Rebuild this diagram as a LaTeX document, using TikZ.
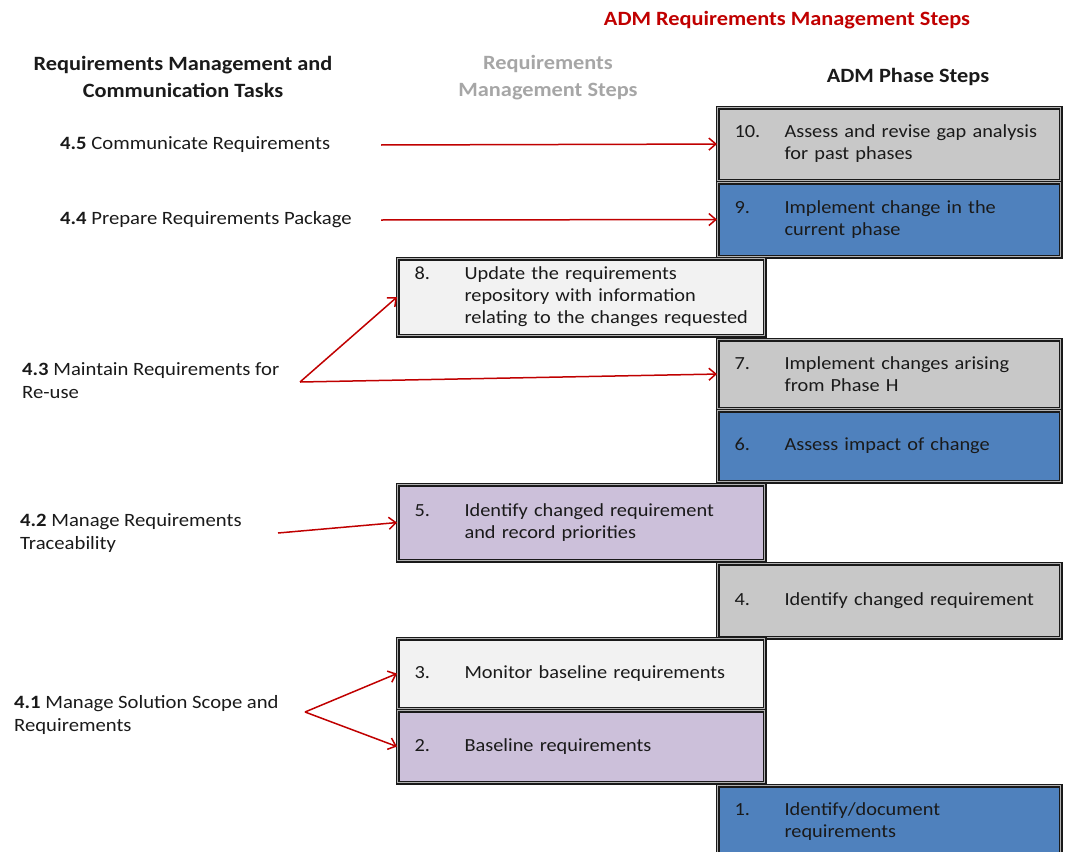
\documentclass[tikz,border=0pt]{standalone}
\usepackage{fontspec}
\setmainfont{Carlito}[FakeStretch=1.1]
\usetikzlibrary{arrows.meta,positioning}
\definecolor{Grey}{HTML}{C8C8C8}
\definecolor{Blue}{HTML}{4F81BD}
\definecolor{Pale}{HTML}{F2F2F2}
\definecolor{Lilac}{HTML}{CCC0DA}
\definecolor{Red}{HTML}{C00000}
\definecolor{Ink}{HTML}{1A1A1A}
\definecolor{Mute}{HTML}{A6A6A6}
\tikzset{
  stepbox/.style={draw=Ink, line width=1.1pt, double=white!70!black, double distance=1.8pt,
    anchor=north west, inner xsep=0pt, inner ysep=0pt, align=left, text=Ink,
    font=\fontsize{18.5}{22}\selectfont},
  task/.style={anchor=west, align=left, inner sep=0pt, text=Ink,
    font=\fontsize{18.8}{23}\selectfont},
  head/.style={align=center, inner sep=0pt, font=\fontsize{20.3}{27}\selectfont\bfseries},
  link/.style={Red, line width=1.5pt, -{Straight Barb[length=7pt,width=12pt]}}
}
\begin{document}
\begin{tikzpicture}[x=1pt,y=-1pt]
  \useasboundingbox (0,0) rectangle (1067,851);
  \clip (0,0) rectangle (1067,851);
  % headings
  \node[head,Red] (title) at (787,20) {ADM Requirements Management Steps};
  \node[head,Ink] (hTasks) at (183,77) {Requirements Management and\\Communication Tasks};
  \node[head,Mute] (hSteps) at (548,78) {Requirements\\Management Steps};
  \node[head,Ink] (hPhase) at (908,77) {ADM Phase Steps};
  % step boxes
  \foreach \n/\x/\y/\h/\w/\col/\txt in {
    10/717/107/73/343/Grey/{Assess and revise gap analysis\\for past phases},
    9/717/182/74/343/Blue/{Implement change in the\\current phase},
    8/397/258/77/367/Pale/{Update the requirements\\repository with information\\relating to the changes requested},
    7/717/339/69/343/Grey/{Implement changes arising\\from Phase H},
    6/717/410/71/343/Blue/{Assess impact of change},
    5/397/484/76/367/Lilac/{Identify changed requirement\\and record priorities},
    4/717/563/74/343/Grey/{Identify changed requirement},
    3/397/638/70/367/Pale/{Monitor baseline requirements},
    2/397/710/72/367/Lilac/{Baseline requirements},
    1/717/785/73/343/Blue/{Identify/document\\requirements}} {
    \node[stepbox, fill=\col, minimum height=\h pt, text width=\w pt] (s\n) at (\x,\y)
      {\hspace*{17pt}\makebox[50pt][l]{\n.}\parbox[t]{\dimexpr\w pt-67pt\relax}{\txt}};
  }
  % tasks
  \node[task] (t45) at (60,145) {\textbf{4.5} Communicate Requirements};
  \node[task] (t44) at (60,220) {\textbf{4.4} Prepare Requirements Package};
  \node[task] (t43) at (22,381) {\textbf{4.3} Maintain Requirements for\\Re-use};
  \node[task] (t42) at (20,533) {\textbf{4.2} Manage Requirements\\Traceability};
  \node[task] (t41) at (14,715) {\textbf{4.1} Manage Solution Scope and\\Requirements};
  % connectors
  \coordinate (a45) at (381,145);
  \coordinate (a44) at (381,220);
  \coordinate (a43) at (300,382);
  \coordinate (a42) at (278,533);
  \coordinate (a41) at (305,712);
  \draw[link] (a45) -- (s10.west);
  \draw[link] (a44) -- (s9.west);
  \draw[link] (a43) -- (s8.west);
  \draw[link] (a43) -- (s7.west);
  \draw[link] (a42) -- (s5.west);
  \draw[link] (a41) -- (s3.west);
  \draw[link] (a41) -- (s2.west);
\end{tikzpicture}
\end{document}
